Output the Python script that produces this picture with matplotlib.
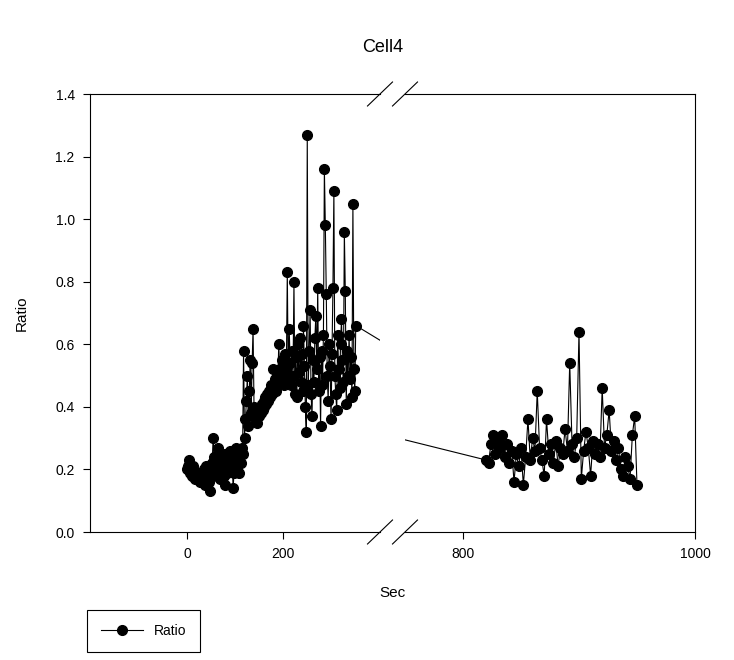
import numpy as np
import matplotlib.pyplot as plt

plt.rcParams['font.family'] = ['Liberation Sans', 'DejaVu Sans']

# sampling times (s)
t_early = np.arange(0, 355, 2)
t_late = np.arange(820, 951, 2)

# ratio values
ratio_early = [
    0.20, 0.21, 0.23, 0.19, 0.20, 0.18, 0.21, 0.19, 0.17, 0.18,
    0.19, 0.17, 0.18, 0.16, 0.18, 0.17, 0.19, 0.20, 0.15, 0.18,
    0.21, 0.17, 0.19, 0.16, 0.13, 0.20, 0.22, 0.30, 0.24, 0.19,
    0.21, 0.18, 0.27, 0.22, 0.17, 0.24, 0.20, 0.23, 0.18, 0.25,
    0.15, 0.21, 0.19, 0.24, 0.22, 0.26, 0.20, 0.24, 0.14, 0.19,
    0.22, 0.27, 0.20, 0.23, 0.19, 0.25, 0.22, 0.27, 0.25, 0.58,
    0.30, 0.36, 0.42, 0.50, 0.34, 0.45, 0.55, 0.38, 0.54, 0.65,
    0.40, 0.36, 0.38, 0.35, 0.39, 0.37, 0.40, 0.38, 0.41, 0.39,
    0.42, 0.40, 0.43, 0.41, 0.44, 0.42, 0.45, 0.43, 0.47, 0.44,
    0.52, 0.46, 0.49, 0.45, 0.50, 0.47, 0.60, 0.52, 0.48, 0.55,
    0.50, 0.53, 0.47, 0.57, 0.52, 0.83, 0.49, 0.65, 0.54, 0.47,
    0.58, 0.50, 0.80, 0.44, 0.56, 0.43, 0.60, 0.51, 0.62, 0.48,
    0.57, 0.45, 0.66, 0.53, 0.40, 0.32, 1.27, 0.47, 0.58, 0.71,
    0.44, 0.37, 0.55, 0.48, 0.62, 0.69, 0.52, 0.78, 0.45, 0.56,
    0.34, 0.58, 0.47, 0.63, 1.16, 0.98, 0.76, 0.50, 0.42, 0.60,
    0.53, 0.36, 0.57, 0.78, 1.09, 0.50, 0.44, 0.39, 0.63, 0.52,
    0.46, 0.60, 0.68, 0.55, 0.48, 0.96, 0.77, 0.41, 0.58, 0.50,
    0.63, 0.49, 0.56, 0.43, 1.05, 0.52, 0.45, 0.66,
]

ratio_late = [
    0.23, 0.22, 0.28, 0.31, 0.25, 0.29, 0.27, 0.31, 0.24, 0.28,
    0.22, 0.26, 0.16, 0.25, 0.21, 0.27, 0.15, 0.24, 0.36, 0.23,
    0.30, 0.26, 0.45, 0.27, 0.23, 0.18, 0.36, 0.25, 0.28, 0.22,
    0.29, 0.21, 0.27, 0.25, 0.33, 0.26, 0.54, 0.28, 0.24, 0.30,
    0.64, 0.17, 0.26, 0.32, 0.27, 0.18, 0.29, 0.25, 0.28, 0.24,
    0.46, 0.27, 0.31, 0.39, 0.26, 0.29, 0.23, 0.27, 0.20, 0.18,
    0.24, 0.21, 0.17, 0.31, 0.37, 0.15,
]

sec = np.concatenate([t_early, t_late])
ratio = np.concatenate([ratio_early, ratio_late])

fig = plt.figure(figsize=(7.34, 6.6), dpi=100)
ax1 = fig.add_axes([90 / 734, 128 / 660, 290 / 734, 438 / 660])
ax2 = fig.add_axes([405 / 734, 128 / 660, 290 / 734, 438 / 660], sharey=ax1)

for ax in (ax1, ax2):
    ax.plot(sec, ratio, color='black', lw=0.8, marker='o', ms=7, label='Ratio')
    ax.tick_params(direction='out', length=5, width=0.8, labelsize=10, pad=6)
    for sp in ax.spines.values():
        sp.set_linewidth(0.8)

ax1.set_ylim(0, 1.4)
ax1.set_yticks(np.arange(0, 1.41, 0.2))
ax1.yaxis.set_major_formatter('{x:.1f}')
ax1.set_xlim(-205, 405)
ax2.set_xlim(750, 1000)
ax1.set_xticks([0, 200])
ax2.set_xticks([800, 1000])
ax1.spines['right'].set_visible(False)
ax2.spines['left'].set_visible(False)
ax2.tick_params(axis='y', left=False, labelleft=False)

# break marks
dx, dy = 12.5 / 290, 12 / 438
kw = dict(color='black', lw=0.8, clip_on=False)
ax1.plot([1 - dx, 1 + dx], [-dy, dy], transform=ax1.transAxes, **kw)
ax1.plot([1 - dx, 1 + dx], [1 - dy, 1 + dy], transform=ax1.transAxes, **kw)
ax2.plot([-dx, dx], [-dy, dy], transform=ax2.transAxes, **kw)
ax2.plot([-dx, dx], [1 - dy, 1 + dy], transform=ax2.transAxes, **kw)

fig.text(383 / 734, 1 - 47 / 660, 'Cell4', ha='center', va='center', fontsize=13)
fig.text(392 / 734, 1 - 593 / 660, 'Sec', ha='center', va='center', fontsize=11)
fig.text(22 / 734, 1 - 313 / 660, 'Ratio', ha='center', va='center',
         fontsize=11, rotation=90)

handles, labels = ax1.get_legend_handles_labels()
leg = fig.legend(handles, labels, loc='upper left',
                 bbox_to_anchor=(87 / 734, 1 - 610 / 660),
                 fancybox=False, edgecolor='black', framealpha=1,
                 numpoints=1, handlelength=3.0, fontsize=10,
                 borderpad=1.0, borderaxespad=0)
leg.get_frame().set_linewidth(0.8)

fig.savefig('out.png', dpi=100)
